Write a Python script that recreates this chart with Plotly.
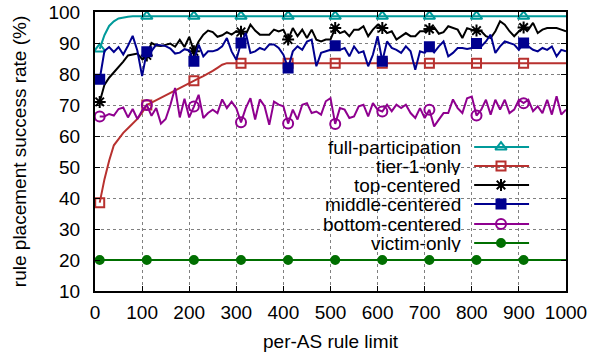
import plotly.graph_objects as go

limits = list(range(10, 1001, 10))

full_participation = [88.1, 92.5, 95.5, 97.0, 97.9, 98.3, 98.5] + [98.6] * 93

tier1_only = [38.5, 46.0, 52.0, 57.0, 59.0, 61.0, 62.5, 64.0, 65.5, 67.5,
              70.0, 70.8, 71.6, 72.4, 73.2, 74.0, 74.8, 75.6, 76.4, 77.1,
              77.8, 78.6, 79.3, 80.1, 81.0, 82.0, 83.0, 83.5] + [83.5] * 72

top_centered = [71.0, 76.5, 78.8, 80.5, 82.0, 84.0, 86.0, 86.3, 86.6, 84.8,
                86.0, 90.0, 89.2, 89.0, 89.5, 89.8, 88.8, 91.0, 88.7, 92.0,
                87.3, 90.5, 92.7, 94.0, 93.5, 92.0, 92.5, 93.5, 92.7, 93.8,
                93.6, 92.7, 95.9, 94.0, 92.7, 92.7, 92.7, 94.3, 93.7, 94.3,
                91.1, 94.8, 92.2, 94.3, 91.6, 94.3, 91.1, 90.5, 91.1, 91.1,
                94.8, 93.2, 93.8, 92.2, 94.3, 94.3, 95.4, 92.2, 94.3, 95.9,
                94.8, 93.2, 93.8, 91.1, 92.2, 93.2, 92.2, 92.2, 93.8, 93.8,
                94.5, 95.1, 93.0, 93.5, 95.4, 94.8, 94.3, 91.6, 94.8, 94.3,
                94.0, 93.8, 92.2, 91.6, 93.8, 97.0, 95.9, 93.8, 92.2, 93.8,
                95.0, 94.3, 96.5, 93.2, 94.3, 94.8, 94.8, 94.8, 94.3, 93.8]

middle_centered = [78.3, 87.4, 88.7, 87.1, 88.7, 86.3, 89.1, 92.3, 87.5, 79.3,
                   87.2, 87.4, 89.5, 89.3, 89.0, 88.2, 86.6, 86.9, 88.0, 87.6,
                   84.1, 89.5, 85.7, 87.3, 87.3, 87.8, 88.9, 91.6, 87.3, 84.6,
                   90.0, 93.2, 86.8, 87.3, 88.4, 87.8, 89.5, 89.5, 88.4, 86.2,
                   81.9, 87.3, 88.9, 87.8, 90.5, 91.1, 82.5, 86.8, 87.3, 87.8,
                   89.1, 87.8, 88.4, 85.7, 88.9, 86.8, 87.3, 82.5, 86.2, 92.2,
                   84.1, 90.5, 88.4, 87.8, 86.8, 88.9, 87.3, 81.4, 87.3, 86.8,
                   88.8, 87.0, 88.9, 90.5, 85.7, 86.8, 88.4, 88.4, 88.1, 88.4,
                   89.8, 88.9, 90.5, 92.7, 86.8, 88.9, 90.5, 90.0, 89.5, 87.8,
                   90.0, 88.9, 87.8, 87.3, 88.4, 87.8, 88.9, 85.7, 87.8, 87.3]

bottom_centered = [66.3, 66.3, 67.1, 66.6, 68.7, 69.2, 66.0, 68.7, 65.5, 68.2,
                   70.0, 66.5, 69.0, 64.0, 65.5, 70.0, 75.5, 66.0, 72.0, 66.0,
                   69.5, 73.3, 65.8, 67.4, 68.5, 67.4, 71.8, 69.0, 71.1, 69.0,
                   64.4, 69.0, 72.2, 65.3, 71.8, 69.6, 63.6, 71.1, 70.1, 69.6,
                   64.0, 68.5, 65.3, 70.1, 70.6, 67.4, 67.9, 66.9, 71.2, 72.2,
                   63.9, 69.0, 68.5, 65.8, 66.3, 69.6, 70.1, 66.3, 70.6, 68.5,
                   67.9, 70.1, 68.0, 70.1, 69.0, 70.1, 67.4, 65.8, 69.0, 65.8,
                   68.5, 63.1, 65.3, 67.4, 67.4, 71.8, 69.0, 67.4, 72.2, 72.7,
                   66.6, 68.5, 71.7, 66.9, 71.7, 68.5, 71.7, 67.4, 68.5, 71.7,
                   70.6, 71.7, 68.0, 69.6, 67.4, 71.7, 66.9, 72.8, 66.9, 68.5]

victim_only = [20.0] * 100

x_ticks = list(range(0, 1001, 100))
y_ticks = list(range(10, 101, 10))

x_title = "per-AS rule limit"
y_title = "rule placement success rate (%)"

series = [
    ("full-participation", full_participation, "#009a9a", "triangle-up-open", 10),
    ("tier-1-only", tier1_only, "#b8312f", "square-open", 9),
    ("top-centered", top_centered, "#000000", "asterisk-open", 10),
    ("middle-centered", middle_centered, "#00008f", "square", 9),
    ("bottom-centered", bottom_centered, "#8f008f", "circle-open", 10),
    ("victim-only", victim_only, "#006f00", "circle", 8),
]

FONT = "Liberation Sans, Arial, Helvetica, sans-serif"
FS = 19

fig = go.Figure()

for name, vals, color, sym, msize in series:
    fig.add_trace(go.Scatter(x=limits, y=vals, mode="lines",
                             line=dict(color=color, width=2),
                             showlegend=False, hoverinfo="skip"))
    fig.add_trace(go.Scatter(x=limits[0::10], y=vals[0::10], mode="markers",
                             marker=dict(symbol=sym, size=msize, color=color,
                                         line=dict(color=color, width=2)),
                             showlegend=False, name=name))

# manual gnuplot-style key (text left, sample right) on an overlay axis
row_y = [0.516, 0.448, 0.380, 0.312, 0.240, 0.172]
for (name, vals, color, sym, msize), ry in zip(series, row_y):
    fig.add_trace(go.Scatter(x=[0.805, 0.9216], y=[ry, ry], mode="lines",
                             line=dict(color=color, width=2),
                             xaxis="x2", yaxis="y2", showlegend=False, hoverinfo="skip"))
    fig.add_trace(go.Scatter(x=[0.862], y=[ry], mode="markers",
                             marker=dict(symbol=sym, size=msize, color=color,
                                         line=dict(color=color, width=2)),
                             xaxis="x2", yaxis="y2", showlegend=False, hoverinfo="skip"))
    fig.add_annotation(x=0.7797, y=ry, xref="paper", yref="paper", text=name,
                       showarrow=False, xanchor="right", yanchor="middle",
                       height=18, valign="middle", borderpad=0,
                       font=dict(family=FONT, size=FS, color="black"))

# axis titles
fig.add_annotation(x=0.5, y=-0.181, xref="paper", yref="paper", text=x_title,
                   showarrow=False, xanchor="center", yanchor="middle",
                   font=dict(family=FONT, size=FS, color="black"))
fig.add_annotation(x=-0.160, y=0.5, xref="paper", yref="paper", text=y_title,
                   showarrow=False, xanchor="center", yanchor="middle", textangle=-90,
                   font=dict(family=FONT, size=FS, color="black"))

fig.add_shape(type="rect", xref="paper", yref="paper", x0=0.477, x1=0.943,
              y0=0.136, y1=0.552, fillcolor="white", line=dict(width=0), layer="between")

axis_common = dict(
    showline=True, linecolor="black", linewidth=2, mirror="ticks",
    ticks="inside", ticklen=5, tickcolor="black", tickwidth=1,
    showgrid=True, gridcolor="#808080", griddash="dot", gridwidth=1,
    zeroline=False, tickfont=dict(family=FONT, size=FS, color="black"),
    automargin=False,
)

fig.update_layout(
    width=590, height=356,
    margin=dict(l=95, r=24, t=12, b=65),
    paper_bgcolor="white", plot_bgcolor="white",
    font=dict(family=FONT, size=FS, color="black"),
    xaxis=dict(range=[0, 1000], tickvals=x_ticks, ticklabelstandoff=3, **axis_common),
    yaxis=dict(range=[10, 100], tickvals=y_ticks, ticklabelstandoff=9, **axis_common),
    xaxis2=dict(range=[0, 1], overlaying="x", visible=False, fixedrange=True),
    yaxis2=dict(range=[0, 1], overlaying="y", visible=False, fixedrange=True),
    showlegend=False,
)

fig.write_html("out.html",
               config={"displayModeBar": False},
               post_script="document.body.style.margin='0';document.body.style.overflow='hidden';")
